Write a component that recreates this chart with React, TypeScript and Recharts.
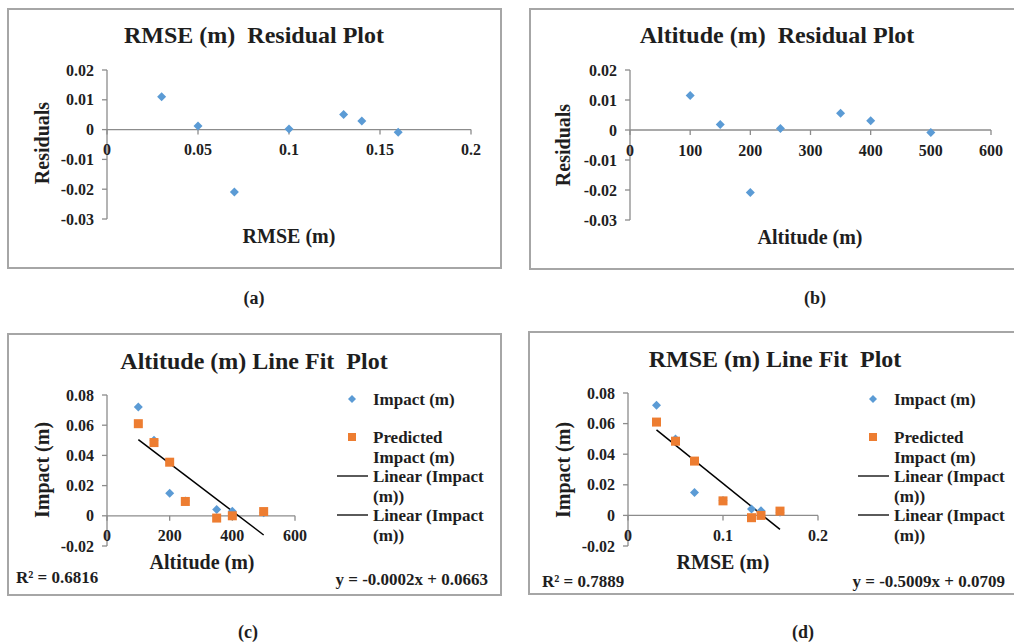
import React from "react"
import { ScatterChart, Scatter, XAxis, YAxis, ReferenceLine, ReferenceDot } from "recharts"

// shared observations (same 7 test runs)
const altitude = [100, 150, 200, 250, 350, 400, 500]
const rmse = [0.03, 0.05, 0.07, 0.1, 0.13, 0.14, 0.16]
const impact = [0.072, 0.05, 0.015, 0.0098, 0.0042, 0.003, 0.002]
const predicted = [0.061, 0.0485, 0.0355, 0.0095, -0.0015, 0, 0.0028]

// residuals as plotted in (a) and (b)
const residualsRmse = [0.011, 0.0012, -0.0209, 0.0002, 0.0051, 0.0029, -0.0009]
const residualsAlt = [0.0115, 0.0018, -0.0208, 0.0005, 0.0056, 0.0031, -0.0008]

// axis ticks
const residualTicks = [0.02, 0.01, 0, -0.01, -0.02, -0.03]
const impactTicks = [0.08, 0.06, 0.04, 0.02, 0, -0.02]
const rmseResidualXTicks = [0, 0.05, 0.1, 0.15, 0.2]
const altResidualXTicks = [0, 100, 200, 300, 400, 500, 600]
const altFitXTicks = [0, 200, 400, 600]
const rmseFitXTicks = [0, 0.1, 0.2]

const FONT = '"Liberation Serif", "Times New Roman", serif'
const AXIS = "#8c8c8c"
const BLUE = "#5b9bd5"
const ORANGE = "#ed7d31"
const INK = "#1e1e1e"

type Pt = { x: number; y: number }
const pts = (xs: number[], ys: number[]): Pt[] => xs.map((x, i) => ({ x, y: ys[i] }))
const fmt = (v: number) => String(v)

// ordinary least squares, like Excel's linear trendline
function linearFit(xs: number[], ys: number[]) {
  const n = xs.length
  const mx = xs.reduce((a, b) => a + b, 0) / n
  const my = ys.reduce((a, b) => a + b, 0) / n
  let sxy = 0
  let sxx = 0
  xs.forEach((x, i) => {
    sxy += (x - mx) * (ys[i] - my)
    sxx += (x - mx) * (x - mx)
  })
  const slope = sxy / sxx
  return { slope, intercept: my - slope * mx }
}

const Diamond = (p: any) => {
  const r = 4.5
  return (
    <polygon
      points={`${p.cx},${p.cy - r} ${p.cx + r},${p.cy} ${p.cx},${p.cy + r} ${p.cx - r},${p.cy}`}
      fill={BLUE}
    />
  )
}

const Square = (p: any) => <rect x={p.cx - 4.5} y={p.cy - 4.5} width={9} height={9} fill={ORANGE} />

// x axis crosses at y = 0, so ticks + labels sit on the zero line
const zeroTick = (label: string) => (p: any) => (
  <g>
    <line x1={p.cx} y1={p.cy} x2={p.cx} y2={p.cy + 5} stroke={AXIS} strokeWidth={1.3} />
    <text
      x={p.cx}
      y={p.cy + 20}
      textAnchor="middle"
      dominantBaseline="central"
      fill={INK}
      fontFamily={FONT}
      fontWeight={700}
      fontSize={16}
    >
      {label}
    </text>
  </g>
)

type PlotProps = {
  left: number
  top: number
  width: number
  height: number
  yAxisWidth: number
  margin: { top: number; right: number; bottom: number; left: number }
  xDomain: [number, number]
  yDomain: [number, number]
  xTicks: number[]
  yTicks: number[]
  blue?: Pt[]
  orange?: Pt[]
  trendXs?: number[]
  trendYs?: number[]
}

function Plot(props: PlotProps) {
  const { left, top, width, height, yAxisWidth, margin, xDomain, yDomain, xTicks, yTicks, blue, orange, trendXs, trendYs } = props
  let segment: Pt[] | null = null
  if (trendXs && trendYs) {
    const f = linearFit(trendXs, trendYs)
    const x1 = Math.min(...trendXs)
    const x2 = Math.max(...trendXs)
    segment = [
      { x: x1, y: f.intercept + f.slope * x1 },
      { x: x2, y: f.intercept + f.slope * x2 },
    ]
  }
  return (
    <div style={{ position: "absolute", left, top }}>
      <ScatterChart width={width} height={height} margin={margin}>
        <XAxis type="number" dataKey="x" domain={xDomain} hide />
        <YAxis
          type="number"
          dataKey="y"
          domain={yDomain}
          ticks={yTicks}
          interval={0}
          width={yAxisWidth}
          axisLine={{ stroke: AXIS, strokeWidth: 1.3 }}
          tickLine={{ stroke: AXIS, strokeWidth: 1.3 }}
          tickSize={5}
          tickMargin={8}
          tickFormatter={fmt}
          tick={{ fill: INK, fontSize: 16, fontWeight: 700, fontFamily: FONT }}
        />
        <ReferenceLine y={0} stroke={AXIS} strokeWidth={1.3} />
        {xTicks.map((t) => (
          <ReferenceDot key={t} x={t} y={0} r={0} shape={zeroTick(fmt(t))} />
        ))}
        {blue && <Scatter data={blue} shape={Diamond} isAnimationActive={false} />}
        {orange && <Scatter data={orange} shape={Square} isAnimationActive={false} />}
        {segment && <ReferenceLine segment={segment} stroke="#000" strokeWidth={1.5} />}
      </ScatterChart>
    </div>
  )
}

function T({
  x,
  y,
  size,
  anchor = "middle",
  rotate = false,
  children,
}: {
  x: number
  y: number
  size: number
  anchor?: "start" | "middle" | "end"
  rotate?: boolean
  children: React.ReactNode
}) {
  const tx = anchor === "start" ? "0" : anchor === "end" ? "-100%" : "-50%"
  return (
    <div
      style={{
        position: "absolute",
        left: x,
        top: y,
        transform: `translate(${tx}, -50%)${rotate ? " rotate(-90deg)" : ""}`,
        transformOrigin: rotate ? "50% 50%" : undefined,
        fontFamily: FONT,
        fontWeight: 700,
        fontSize: size,
        color: INK,
        whiteSpace: "pre",
        lineHeight: 1,
      }}
    >
      {children}
    </div>
  )
}

function Box({ left, top, width, height }: { left: number; top: number; width: number; height: number }) {
  return (
    <div
      style={{
        position: "absolute",
        left,
        top,
        width,
        height,
        border: "2px solid #a6a6a6",
        boxSizing: "border-box",
      }}
    />
  )
}

function FitLegend({ dx }: { dx: number }) {
  const tx = 373 + dx
  const mx = 352 + dx
  const lineX1 = 337 + dx
  return (
    <>
      <svg style={{ position: "absolute", left: 0, top: 0, overflow: "visible" }} width={1} height={1}>
        <polygon points={`${mx},395 ${mx + 4},399 ${mx},403 ${mx - 4},399`} fill={BLUE} />
        <rect x={mx - 4} y={433} width={8} height={8} fill={ORANGE} />
        <line x1={lineX1} y1={476} x2={lineX1 + 31} y2={476} stroke="#000" strokeWidth={1.3} />
        <line x1={lineX1} y1={515} x2={lineX1 + 31} y2={515} stroke="#000" strokeWidth={1.3} />
      </svg>
      <T x={tx} y={399} size={17} anchor="start">Impact (m)</T>
      <T x={tx} y={437} size={17} anchor="start">Predicted</T>
      <T x={tx} y={457} size={17} anchor="start">Impact (m)</T>
      <T x={tx} y={476} size={17} anchor="start">Linear (Impact</T>
      <T x={tx} y={496} size={17} anchor="start">(m))</T>
      <T x={tx} y={515} size={17} anchor="start">Linear (Impact</T>
      <T x={tx} y={535} size={17} anchor="start">(m))</T>
    </>
  )
}

export default function App() {
  return (
    <div
      style={{
        position: "absolute",
        left: 0,
        top: 0,
        width: 1014,
        height: 643,
        overflow: "hidden",
        background: "#fff",
      }}
    >
      {/* (a) RMSE residuals */}
      <Box left={7} top={8} width={495} height={261} />
      <Plot
        left={8}
        top={9}
        width={493}
        height={259}
        yAxisWidth={99}
        margin={{ top: 61, right: 30, bottom: 49, left: 0 }}
        xDomain={[0, 0.2]}
        yDomain={[-0.03, 0.02]}
        xTicks={rmseResidualXTicks}
        yTicks={residualTicks}
        blue={pts(rmse, residualsRmse)}
      />
      <T x={254} y={35} size={24}>{"RMSE (m)  Residual Plot"}</T>
      <T x={42} y={143} size={20} rotate>Residuals</T>
      <T x={289} y={236} size={20}>RMSE (m)</T>
      <T x={254} y={298} size={18}>(a)</T>

      {/* (b) Altitude residuals */}
      <Box left={529} top={8} width={497} height={262} />
      <Plot
        left={530}
        top={9}
        width={494}
        height={260}
        yAxisWidth={100}
        margin={{ top: 61, right: 33, bottom: 49, left: 0 }}
        xDomain={[0, 600]}
        yDomain={[-0.03, 0.02]}
        xTicks={altResidualXTicks}
        yTicks={residualTicks}
        blue={pts(altitude, residualsAlt)}
      />
      <T x={777} y={35} size={24}>{"Altitude (m)  Residual Plot"}</T>
      <T x={563} y={145} size={20} rotate>Residuals</T>
      <T x={810} y={237} size={20}>Altitude (m)</T>
      <T x={815} y={298} size={18}>(b)</T>

      {/* (c) Altitude line fit */}
      <Box left={7} top={333} width={495} height={263} />
      <Plot
        left={8}
        top={334}
        width={493}
        height={261}
        yAxisWidth={99}
        margin={{ top: 61, right: 206, bottom: 49, left: 0 }}
        xDomain={[0, 600]}
        yDomain={[-0.02, 0.08]}
        xTicks={altFitXTicks}
        yTicks={impactTicks}
        blue={pts(altitude, impact)}
        orange={pts(altitude, predicted)}
        trendXs={altitude}
        trendYs={impact}
      />
      <T x={254} y={361} size={24}>{"Altitude (m) Line Fit  Plot"}</T>
      <T x={42} y={470} size={20} rotate>Impact (m)</T>
      <T x={202} y={562} size={20}>Altitude (m)</T>
      <T x={16} y={577} size={17} anchor="start">R² = 0.6816</T>
      <T x={488} y={579} size={17} anchor="end">y = -0.0002x + 0.0663</T>
      <FitLegend dx={0} />
      <T x={248} y={632} size={18}>(c)</T>

      {/* (d) RMSE line fit */}
      <Box left={528} top={331} width={498} height={264} />
      <Plot
        left={529}
        top={332}
        width={495}
        height={262}
        yAxisWidth={99}
        margin={{ top: 61, right: 206, bottom: 48, left: 0 }}
        xDomain={[0, 0.2]}
        yDomain={[-0.02, 0.08]}
        xTicks={rmseFitXTicks}
        yTicks={impactTicks}
        blue={pts(rmse, impact)}
        orange={pts(rmse, predicted)}
        trendXs={rmse}
        trendYs={impact}
      />
      <T x={775} y={359} size={24}>{"RMSE (m) Line Fit  Plot"}</T>
      <T x={563} y={470} size={20} rotate>Impact (m)</T>
      <T x={723} y={562} size={20}>RMSE (m)</T>
      <T x={542} y={581} size={17} anchor="start">R² = 0.7889</T>
      <T x={1005} y={581} size={17} anchor="end">y = -0.5009x + 0.0709</T>
      <FitLegend dx={521} />
      <T x={803} y={632} size={18}>(d)</T>
    </div>
  )
}
